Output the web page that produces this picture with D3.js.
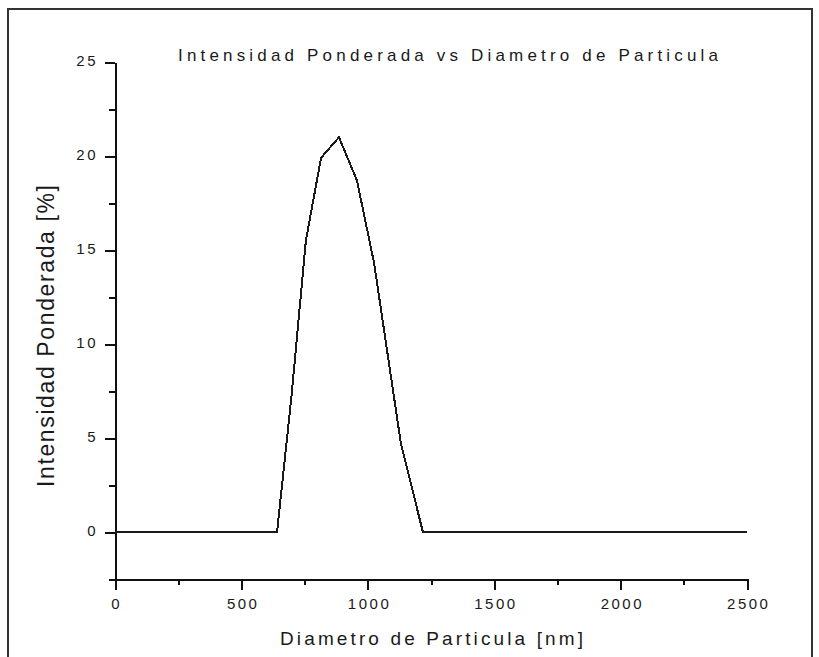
<!DOCTYPE html>
<html>
<head>
<meta charset="utf-8">
<script src="https://cdn.jsdelivr.net/npm/d3@7"></script>
<style>
  html, body { margin: 0; padding: 0; background: #fff; }
  svg { display: block; }
  text { font-family: Arial, "Liberation Sans", sans-serif; fill: #1a1a1a; }
</style>
</head>
<body>
<svg id="chart" width="819" height="657"></svg>
<script>
// Particle size distribution (intensity weighted)
const diameterNm = [0, 641, 698, 755, 815, 886, 957, 1025, 1078, 1131, 1218, 2500];
const intensityPct = [0, 0, 7.2, 15.5, 19.9, 21.0, 18.7, 14.3, 9.5, 4.7, 0, 0];

const xTicks = [0, 500, 1000, 1500, 2000, 2500];
const xMinorTicks = [250, 750, 1250, 1750, 2250];
const yTicks = [0, 5, 10, 15, 20, 25];
const yMinorTicks = [-2.5, 2.5, 7.5, 12.5, 17.5, 22.5];

const chartTitle = "Intensidad Ponderada vs Diametro de Particula";
const xTitle = "Diametro de Particula [nm]";
const yTitle = "Intensidad Ponderada [%]";

const svg = d3.select("#chart");
const W = 819, H = 657;
const plot = { left: 115, right: 747, top: 62, bottom: 579 };

// outer frame
svg.append("path")
  .attr("d", `M8,${H + 2} L8,9 L812,9 L812,${H + 2}`)
  .attr("fill", "none")
  .attr("stroke", "#333")
  .attr("stroke-width", 2)
  .attr("shape-rendering", "crispEdges");

const x = d3.scaleLinear().domain([0, 2500]).range([plot.left, plot.right]);
const y = d3.scaleLinear().domain([-2.5, 25]).range([plot.bottom, plot.top]);

function styleAxis(g) {
  g.selectAll("path, line")
    .attr("stroke", "#111")
    .attr("stroke-width", 2)
    .attr("shape-rendering", "crispEdges");
  g.selectAll("text")
    .attr("fill", "#1a1a1a")
    .style("font-size", "15px")
    .style("letter-spacing", "2.5px")
    .style("font-family", "Arial, 'Liberation Sans', sans-serif");
}

// y axis: minor then major ticks
svg.append("g")
  .attr("transform", `translate(${plot.left},0)`)
  .call(d3.axisLeft(y).tickValues(yMinorTicks).tickSize(6).tickSizeOuter(0).tickFormat(""))
  .call(styleAxis);
svg.append("g")
  .attr("transform", `translate(${plot.left},0)`)
  .call(d3.axisLeft(y).tickValues(yTicks).tickSize(10).tickSizeOuter(0).tickPadding(7).tickFormat(d3.format("d")))
  .call(styleAxis)
  .call(g => g.selectAll("text").attr("dy", "0.22em"));

// x axis: minor then major ticks
svg.append("g")
  .attr("transform", `translate(0,${plot.bottom})`)
  .call(d3.axisBottom(x).tickValues(xMinorTicks).tickSize(6).tickSizeOuter(0).tickFormat(""))
  .call(styleAxis);
svg.append("g")
  .attr("transform", `translate(0,${plot.bottom})`)
  .call(d3.axisBottom(x).tickValues(xTicks).tickSize(11).tickSizeOuter(0).tickPadding(8).tickFormat(d3.format("d")))
  .call(styleAxis)
  .call(g => g.selectAll("text").attr("dx", "1.25px"));

// distribution curve
const line = d3.line()
  .x((d, i) => x(diameterNm[i]))
  .y(d => y(d));

svg.append("path")
  .datum(intensityPct)
  .attr("d", line)
  .attr("fill", "none")
  .attr("stroke", "#1a1a1a")
  .attr("stroke-width", 2)
  .attr("stroke-linejoin", "miter")
  .attr("shape-rendering", "crispEdges");

// titles
svg.append("text")
  .attr("x", 448).attr("y", 61)
  .attr("text-anchor", "middle")
  .attr("textLength", 540).attr("lengthAdjust", "spacing")
  .style("font-size", "17px")
  .text(chartTitle);

svg.append("text")
  .attr("x", 431.5).attr("y", 645)
  .attr("text-anchor", "middle")
  .attr("textLength", 303).attr("lengthAdjust", "spacing")
  .style("font-size", "19px")
  .text(xTitle);

svg.append("text")
  .attr("transform", `translate(54,336) rotate(-90)`)
  .attr("text-anchor", "middle")
  .attr("textLength", 302).attr("lengthAdjust", "spacing")
  .style("font-size", "23px")
  .text(yTitle);
</script>
</body>
</html>
